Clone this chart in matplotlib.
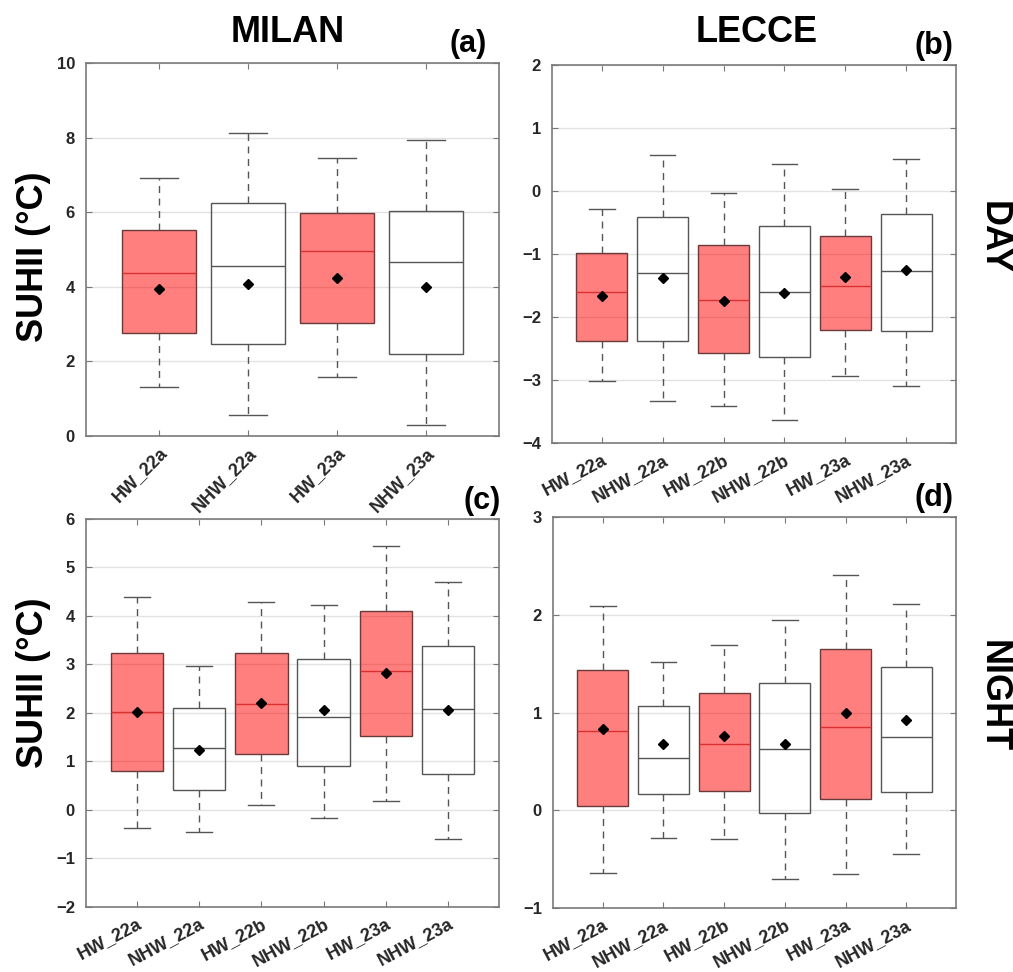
import numpy as np
import matplotlib.pyplot as plt
from matplotlib.transforms import ScaledTranslation

plt.rcParams['font.family'] = ['Liberation Sans', 'DejaVu Sans']
plt.rcParams['font.weight'] = 'bold'

# ---- data ----
milan_labels = ['HW_22a', 'NHW_22a', 'HW_23a', 'NHW_23a']
milan_day_whislo = [1.32, 0.56, 1.58, 0.29]
milan_day_q1 = [2.75, 2.46, 3.04, 2.20]
milan_day_med = [4.36, 4.55, 4.95, 4.66]
milan_day_mean = [3.93, 4.09, 4.25, 4.00]
milan_day_q3 = [5.52, 6.24, 5.99, 6.04]
milan_day_whishi = [6.92, 8.13, 7.45, 7.94]

lecce_labels = ['HW_22a', 'NHW_22a', 'HW_22b', 'NHW_22b', 'HW_23a', 'NHW_23a']
lecce_day_whislo = [-3.02, -3.34, -3.42, -3.63, -2.94, -3.10]
lecce_day_q1 = [-2.38, -2.38, -2.57, -2.63, -2.21, -2.22]
lecce_day_med = [-1.60, -1.30, -1.73, -1.60, -1.51, -1.27]
lecce_day_mean = [-1.67, -1.38, -1.75, -1.62, -1.36, -1.25]
lecce_day_q3 = [-0.98, -0.415, -0.85, -0.56, -0.71, -0.37]
lecce_day_whishi = [-0.28, 0.57, -0.03, 0.43, 0.03, 0.51]

milan_night_labels = ['HW_22a', 'NHW_22a', 'HW_22b', 'NHW_22b', 'HW_23a', 'NHW_23a']
milan_night_whislo = [-0.38, -0.45, 0.11, -0.16, 0.18, -0.60]
milan_night_q1 = [0.81, 0.41, 1.15, 0.91, 1.52, 0.74]
milan_night_med = [2.01, 1.28, 2.18, 1.92, 2.86, 2.08]
milan_night_mean = [2.01, 1.23, 2.20, 2.07, 2.82, 2.07]
milan_night_q3 = [3.23, 2.10, 3.24, 3.12, 4.11, 3.38]
milan_night_whishi = [4.40, 2.96, 4.28, 4.22, 5.44, 4.70]

lecce_night_labels = ['HW_22a', 'NHW_22a', 'HW_22b', 'NHW_22b', 'HW_23a', 'NHW_23a']
lecce_night_whislo = [-0.64, -0.28, -0.29, -0.70, -0.65, -0.45]
lecce_night_q1 = [0.04, 0.17, 0.20, -0.03, 0.12, 0.19]
lecce_night_med = [0.81, 0.53, 0.68, 0.63, 0.85, 0.75]
lecce_night_mean = [0.83, 0.68, 0.76, 0.68, 1.00, 0.92]
lecce_night_q3 = [1.43, 1.07, 1.20, 1.30, 1.65, 1.47]
lecce_night_whishi = [2.09, 1.52, 1.69, 1.95, 2.41, 2.11]

RED = (1.0, 0.0, 0.0, 0.5)
EDGE = '#555555'


def draw(ax, labels, lo, q1, med, mean, q3, hi, ylim, yticks, rot):
    stats = []
    for i in range(len(labels)):
        stats.append(dict(label=labels[i], whislo=lo[i], q1=q1[i], med=med[i],
                          q3=q3[i], whishi=hi[i], mean=mean[i], fliers=[]))
    pos = np.arange(1, len(labels) + 1)
    bp = ax.bxp(stats, positions=pos, widths=0.84, patch_artist=True,
                showmeans=True, capwidths=0.42,
                boxprops=dict(edgecolor=EDGE, linewidth=1.0),
                whiskerprops=dict(color=EDGE, linestyle=(0, (5, 4)), linewidth=1.0),
                capprops=dict(color=EDGE, linewidth=1.0),
                medianprops=dict(color=EDGE, linewidth=1.0),
                meanprops=dict(marker='D', markerfacecolor='black',
                               markeredgecolor='black', markersize=5.5))
    for i, b in enumerate(bp['boxes']):
        if labels[i].startswith('HW'):
            b.set_facecolor(RED)
            b.set_edgecolor('#6a3a3a')
            bp['medians'][i].set_color('#d93030')
        else:
            b.set_facecolor('none')
    ax.set_xlim(0.18, len(labels) + 0.82)
    ax.set_ylim(*ylim)
    ax.set_yticks(yticks)
    ax.set_xticks(pos)
    ax.set_xticklabels(labels, rotation=rot, ha='right', rotation_mode='anchor',
                       fontsize=13, fontweight='bold', color='#262626')
    shift = ScaledTranslation(5 / 72, 0, ax.figure.dpi_scale_trans)
    for lab in ax.get_xticklabels():
        lab.set_transform(lab.get_transform() + shift)
    ax.set_yticklabels([str(t).replace('-', '\u2212') for t in yticks],
                       fontsize=12, fontweight='bold', color='#262626')
    ax.yaxis.grid(True, color='#e2e2e2', linewidth=1.0)
    ax.set_axisbelow(True)
    ax.tick_params(direction='in', top=True, right=True, length=4,
                   color='#777777', width=0.8)
    ax.tick_params(axis='y', pad=8)
    ax.tick_params(axis='x', pad=6)
    for s in ax.spines.values():
        s.set_color('#7a7a7a')
        s.set_linewidth(1.2)


fig = plt.figure(figsize=(10.13, 9.72), dpi=100)
ax_a = fig.add_axes([0.0849, 0.5514, 0.4077, 0.3837])
ax_b = fig.add_axes([0.5449, 0.5442, 0.3988, 0.3889])
ax_c = fig.add_axes([0.0849, 0.0669, 0.4077, 0.3992])
ax_d = fig.add_axes([0.5459, 0.0658, 0.3978, 0.4023])

draw(ax_a, milan_labels, milan_day_whislo, milan_day_q1, milan_day_med,
     milan_day_mean, milan_day_q3, milan_day_whishi, (0, 10), [0, 2, 4, 6, 8, 10], 45)
draw(ax_b, lecce_labels, lecce_day_whislo, lecce_day_q1, lecce_day_med,
     lecce_day_mean, lecce_day_q3, lecce_day_whishi, (-4, 2), [-4, -3, -2, -1, 0, 1, 2], 28)
draw(ax_c, milan_night_labels, milan_night_whislo, milan_night_q1, milan_night_med,
     milan_night_mean, milan_night_q3, milan_night_whishi, (-2, 6),
     [-2, -1, 0, 1, 2, 3, 4, 5, 6], 28)
draw(ax_d, lecce_night_labels, lecce_night_whislo, lecce_night_q1, lecce_night_med,
     lecce_night_mean, lecce_night_q3, lecce_night_whishi, (-1, 3), [-1, 0, 1, 2, 3], 28)

fig.text(0.284, 0.967, 'MILAN', fontsize=26, fontweight='bold', ha='center', va='center')
fig.text(0.747, 0.967, 'LECCE', fontsize=26, fontweight='bold', ha='center', va='center')
fig.text(0.462, 0.955, '(a)', fontsize=22, fontweight='bold', ha='center', va='center')
fig.text(0.922, 0.953, '(b)', fontsize=22, fontweight='bold', ha='center', va='center')
fig.text(0.476, 0.485, '(c)', fontsize=22, fontweight='bold', ha='center', va='center')
fig.text(0.922, 0.488, '(d)', fontsize=22, fontweight='bold', ha='center', va='center')
fig.text(0.033, 0.736, 'SUHII (°C)', fontsize=26, fontweight='bold', rotation=90,
         ha='center', va='center')
fig.text(0.033, 0.298, 'SUHII (°C)', fontsize=26, fontweight='bold', rotation=90,
         ha='center', va='center')
fig.text(0.980, 0.756, 'DAY', fontsize=26, fontweight='bold', rotation=-90,
         ha='center', va='center')
fig.text(0.980, 0.284, 'NIGHT', fontsize=26, fontweight='bold', rotation=-90,
         ha='center', va='center')

plt.savefig('out.png', dpi=100)
